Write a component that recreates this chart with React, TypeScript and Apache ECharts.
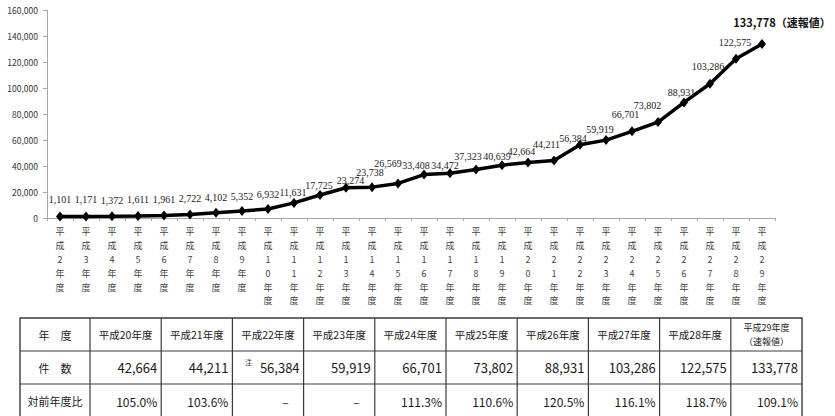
import React, { useEffect, useRef } from "react";
import * as echarts from "echarts";

// 平成2年度〜平成29年度 の件数推移
const fiscalYears = [
  "平成2年度", "平成3年度", "平成4年度", "平成5年度", "平成6年度", "平成7年度",
  "平成8年度", "平成9年度", "平成10年度", "平成11年度", "平成12年度", "平成13年度",
  "平成14年度", "平成15年度", "平成16年度", "平成17年度", "平成18年度", "平成19年度",
  "平成20年度", "平成21年度", "平成22年度", "平成23年度", "平成24年度", "平成25年度",
  "平成26年度", "平成27年度", "平成28年度", "平成29年度",
];
const caseCounts = [
  1101, 1171, 1372, 1611, 1961, 2722, 4102, 5352, 6932, 11631, 17725, 23274,
  23738, 26569, 33408, 34472, 37323, 40639, 42664, 44211, 56384, 59919,
  66701, 73802, 88931, 103286, 122575, 133778,
];
const yTicks = { min: 0, max: 160000, step: 20000 };
const preliminarySuffix = "（速報値）";

// 表（平成20年度〜平成29年度）
const tableStart = 18;
const tableHeaders = [
  "平成20年度", "平成21年度", "平成22年度", "平成23年度", "平成24年度",
  "平成25年度", "平成26年度", "平成27年度", "平成28年度", "平成29年度\n（速報値）",
];
const tableNotes = ["", "", "注", "", "", "", "", "", "", ""];
const yearOverYear = [105.0, 103.6, null, null, 111.3, 110.6, 120.5, 116.1, 118.7, 109.1];
const rowTitles = ["年　度", "件　数", "対前年度比"];

// per-point label nudges [dx, dy above the marker]
const labelNudge: [number, number][] = [
  [0, 17], [0, 16.5], [0, 16], [0, 16], [0, 16], [0, 16], [0, 15.5], [0, 15],
  [0, 14], [-1, 10], [-1, 9], [4.5, 7], [-2, 15], [-10, 19.5], [-8, 9], [-5, 7.5],
  [-8, 13], [-5, 8.5], [-6.5, 11.5], [-7.5, 16.5], [-7, 6.5], [-6, 11], [-6.5, 16.5],
  [-10.5, 17], [-2.5, 10], [-2, 17], [-1, 16.5], [20, 22],
];

const fmt = (v: number) => v.toLocaleString("en-US");
const JP = '"Noto Sans CJK JP", "Noto Sans", sans-serif';

function buildTable() {
  const left = 20;
  const top = 318;
  const firstW = 70;
  const colW = 71.2;
  const rowLines = [318, 351, 384, 418];
  const right = left + firstW + colW * tableHeaders.length;
  const stroke = "#3a3a3a";
  const els: any[] = [];

  els.push({
    type: "rect",
    silent: true,
    shape: { x: left, y: top, width: right - left, height: rowLines[3] - top },
    style: { fill: "#fff", stroke, lineWidth: 1.4 },
  });
  [rowLines[1], rowLines[2]].forEach((y) =>
    els.push({
      type: "line",
      silent: true,
      shape: { x1: left, y1: y, x2: right, y2: y },
      style: { stroke, lineWidth: 1.2 },
    })
  );
  for (let k = 0; k < tableHeaders.length; k++) {
    const x = left + firstW + colW * k;
    els.push({
      type: "line",
      silent: true,
      shape: { x1: x, y1: top, x2: x, y2: rowLines[3] },
      style: { stroke, lineWidth: 1.2 },
    });
  }

  const mids = [0, 1, 2].map((r) => (rowLines[r] + rowLines[r + 1]) / 2);
  const text = (
    x: number, y: number, s: string, size: number, align: string, extra: any = {}
  ) => ({
    type: "text",
    silent: true,
    x,
    y,
    style: {
      text: s,
      fill: "#1a1a1a",
      fontSize: size,
      fontFamily: JP,
      align,
      textAlign: align,
      verticalAlign: "middle",
      textVerticalAlign: "middle",
      ...extra,
    },
  });

  rowTitles.forEach((t, r) => els.push(text(left + firstW / 2, mids[r], t, 11, "center")));

  tableHeaders.forEach((h, k) => {
    const cx = left + firstW + colW * k + colW / 2;
    const xr = left + firstW + colW * (k + 1);
    const lines = h.split("\n");
    if (lines.length > 1) {
      els.push(text(cx, mids[0] - 7, lines[0], 9, "center"));
      els.push(text(cx, mids[0] + 6.5, lines[1], 9, "center"));
    } else {
      els.push(text(cx, mids[0], h, 10.5, "center"));
    }
    els.push(text(xr - 4, mids[1], fmt(caseCounts[tableStart + k]), 13, "right"));
    if (tableNotes[k]) {
      els.push(text(xr - 55, mids[1] - 6, tableNotes[k], 6.5, "center"));
    }
    const r = yearOverYear[k];
    els.push(
      r === null
        ? text(xr - 15, mids[2], "–", 12, "right")
        : text(xr - 4, mids[2], r.toFixed(1) + "%", 12, "right")
    );
  });
  return els;
}

export default function App() {
  const ref = useRef<HTMLDivElement>(null);

  useEffect(() => {
    if (!ref.current) return;
    const chart = echarts.init(ref.current, undefined, { renderer: "svg" });
    const last = caseCounts.length - 1;

    chart.setOption({
      animation: false,
      backgroundColor: "#fff",
      textStyle: { fontFamily: JP },
      grid: { left: 47, right: 60, top: 10, bottom: 198, containLabel: false },
      xAxis: {
        type: "category",
        data: fiscalYears,
        boundaryGap: true,
        axisLine: { lineStyle: { color: "#a6a6a6", width: 1 } },
        axisTick: { show: true, length: 3, lineStyle: { color: "#a6a6a6" } },
        axisLabel: {
          interval: 0,
          margin: 7,
          fontSize: 9,
          lineHeight: 13.8,
          color: "#444",
          fontFamily: JP,
          formatter: (v: string) => v.split("").join("\n"),
        },
      },
      yAxis: {
        type: "value",
        min: yTicks.min,
        max: yTicks.max,
        interval: yTicks.step,
        axisLine: { show: true, lineStyle: { color: "#a6a6a6", width: 1 } },
        axisTick: { show: true, length: 4, lineStyle: { color: "#a6a6a6" } },
        splitLine: { show: false },
        axisLabel: {
          fontSize: 8.5,
          color: "#333",
          margin: 9,
          fontFamily: JP,
          formatter: (v: number) => fmt(v),
        },
      },
      series: [
        {
          type: "line",
          data: caseCounts.map((v, i) => {
            const [dx, dy] = labelNudge[i];
            const item: any = { value: v, label: { offset: [dx, -dy] } };
            if (i === last) {
              item.label = {
                offset: [dx, -dy],
                fontSize: 11,
                fontWeight: "bold",
                fontFamily: JP,
                color: "#111",
              };
            }
            return item;
          }),
          symbol: "diamond",
          symbolSize: [8, 10],
          lineStyle: { color: "#000", width: 3.5 },
          itemStyle: { color: "#000" },
          label: {
            show: true,
            position: "inside",
            fontFamily: '"Liberation Serif", serif',
            fontSize: 10,
            color: "#222",
            formatter: (p: any) =>
              p.dataIndex === last ? fmt(p.value) + preliminarySuffix : fmt(p.value),
          },
        },
      ],
      graphic: buildTable(),
    });

    return () => chart.dispose();
  }, []);

  return (
    <div
      ref={ref}
      style={{ position: "fixed", left: 0, top: 0, width: 835, height: 416, background: "#fff" }}
    />
  );
}
